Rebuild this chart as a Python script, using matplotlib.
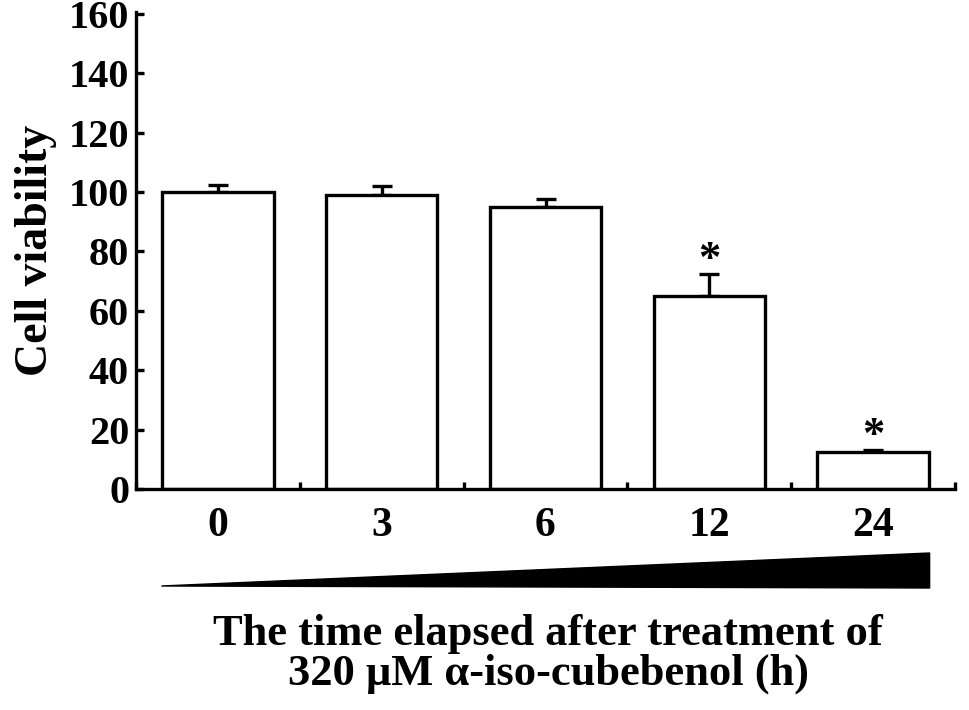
import matplotlib
matplotlib.use("Agg")
import matplotlib.pyplot as plt
import matplotlib.transforms as mtransforms
from matplotlib.patches import Polygon

categories = ["0", "3", "6", "12", "24"]
values = [100, 99, 95, 65, 12.5]
errors = [2.3, 3.0, 2.5, 7.5, 0.7]
significant = [False, False, False, True, True]
yticks = [0, 20, 40, 60, 80, 100, 120, 140, 160]

plt.rcParams['font.family'] = ['Liberation Serif', 'DejaVu Serif']
plt.rcParams['font.weight'] = 'bold'

fig = plt.figure(figsize=(9.69, 7.10), dpi=100)
ax = fig.add_axes([136/969, 1-489/710, (955-136)/969, (489-12)/710])

x = list(range(len(categories)))
lw = 2.4
ax.bar(x, values, width=0.68, color='white', edgecolor='black', linewidth=lw, zorder=2)
ax.errorbar(x, values, yerr=[[0]*len(errors), errors], fmt='none', ecolor='black',
            elinewidth=lw, capsize=7, capthick=lw, zorder=1)

for xi, v, e, s in zip(x, values, errors, significant):
    if s:
        ax.text(xi, v + e + 4.5, '*', ha='center', va='center', fontsize=32, fontweight='bold')

ax.set_xlim(-0.5, len(categories) - 0.5)
ax.set_ylim(0, 160.6)
ax.set_yticks(yticks)
ax.set_yticklabels([str(t) for t in yticks], fontsize=29, fontweight='bold')
ax.set_xticks(x)
ax.set_xticklabels(categories, fontsize=30, fontweight='bold')
ax.set_xticks([i - 0.5 for i in range(len(categories) + 1)], minor=True)
ax.tick_params(axis='x', which='major', length=0, pad=13)
ax.tick_params(axis='x', which='minor', direction='in', length=5, width=lw)
ax.tick_params(axis='y', which='major', direction='in', length=6, width=lw, pad=5)

for sp in ['top', 'right']:
    ax.spines[sp].set_visible(False)
for sp in ['left', 'bottom']:
    ax.spines[sp].set_linewidth(lw)

ax.set_ylabel('Cell viability', fontsize=33, fontweight='bold', labelpad=8)

# wedge (increasing time)
trans = mtransforms.blended_transform_factory(ax.transData, fig.transFigure)
wedge = Polygon([(-0.345, 1-586/710), (4.345, 1-553/710), (4.345, 1-588/710)],
                closed=True, facecolor='black', edgecolor='black', transform=trans, clip_on=False)
fig.patches.append(wedge)

fig.text(548/969, 1-654/710, 'The time elapsed after treatment of\n320 \u03bcM \u03b1-iso-cubebenol (h)',
         ha='center', va='center', fontsize=32, fontweight='bold', linespacing=0.97)

fig.savefig('out.png', dpi=100)
